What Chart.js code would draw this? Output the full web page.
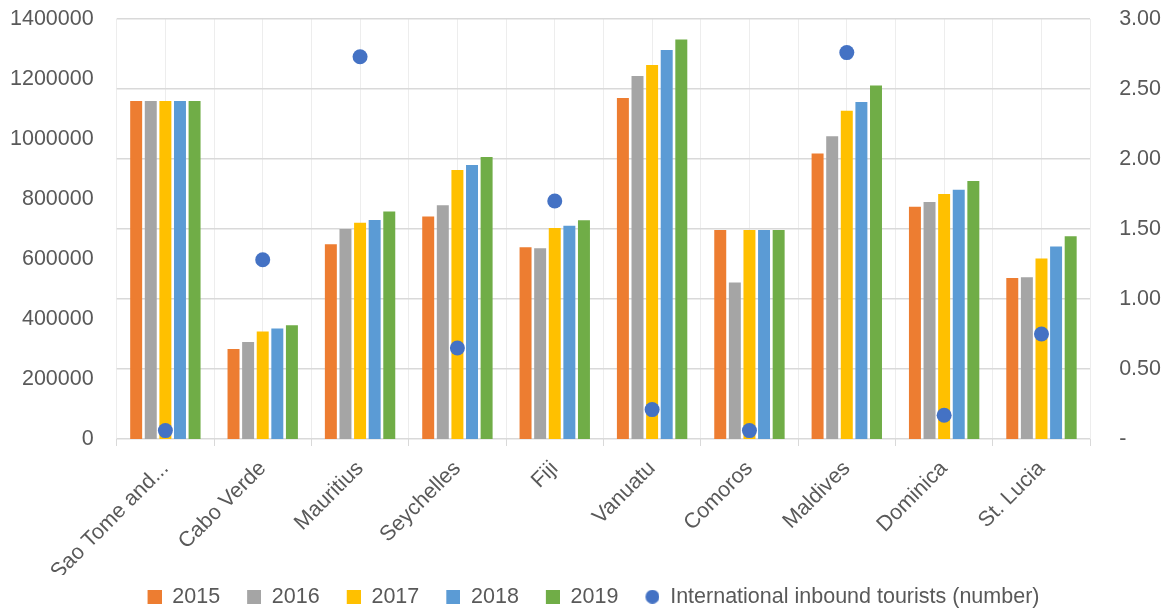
<!DOCTYPE html>
<html>
<head>
<meta charset="utf-8">
<title>Tourism by country, 2015–2019</title>
<script src="https://cdn.jsdelivr.net/npm/chart.js@4.4.1/dist/chart.umd.min.js"></script>
<style>
  html, body { margin: 0; padding: 0; background: #fff; }
  #wrap { position: relative; width: 1167px; height: 610px; }
</style>
</head>
<body>
<div id="wrap"><canvas id="chartTourism"></canvas></div>
<script>
/* Grouped bars per year (left axis) + tourist dots (right axis). */

const categories = ['Sao Tome and...', 'Cabo Verde', 'Mauritius', 'Seychelles', 'Fiji',
  'Vanuatu', 'Comoros', 'Maldives', 'Dominica', 'St. Lucia'];

const years = ['2015', '2016', '2017', '2018', '2019'];

const y2015 = [1127000, 300000, 649000, 742000, 639000, 1137000, 697000, 952000, 774000, 537000];
const y2016 = [1127000, 323000, 700000, 779000, 636000, 1210000, 522000, 1009000, 790000, 539000];
const y2017 = [1127000, 358000, 721000, 897000, 703000, 1247000, 697000, 1094000, 817000, 602000];
const y2018 = [1127000, 368000, 730000, 913000, 711000, 1297000, 697000, 1123000, 831000, 642000];
const y2019 = [1127000, 379000, 758000, 940000, 729000, 1332000, 697000, 1178000, 860000, 676000];

const tourists = [0.06, 1.28, 2.73, 0.65, 1.70, 0.21, 0.06, 2.76, 0.17, 0.75];
const touristsLabel = 'International inbound tourists (number)';

const leftTicks = [0, 200000, 400000, 600000, 800000, 1000000, 1200000, 1400000];
const rightTicks = [0, 0.5, 1, 1.5, 2, 2.5, 3];

(function () {
  'use strict';

  const ORANGE = '#ED7D31';
  const GREY   = '#A5A5A5';
  const GOLD   = '#FFC000';
  const SKY    = '#5B9BD5';
  const GREEN  = '#70AD47';
  const DOT    = '#4472C4';
  const TEXT   = '#595959';
  const RULE   = '#D9D9D9';
  const FAINT  = '#EDEDED';

  const FONT = { family: "'Liberation Sans', Arial, sans-serif", size: 21.5 };

  Chart.defaults.font.family = FONT.family;
  Chart.defaults.font.size = FONT.size;
  Chart.defaults.color = TEXT;

  const series = [y2015, y2016, y2017, y2018, y2019];
  const colors = [ORANGE, GREY, GOLD, SKY, GREEN];

  /* Legend markers: 14px square / dot, pushed to the right edge of a wider
     slot so the gap between legend entries is wider than box-to-text. */
  const SLOT = 30, MARK = 14;
  function legendMark(color, round) {
    const cv = document.createElement('canvas');
    cv.width = SLOT; cv.height = MARK;
    const c = cv.getContext('2d');
    c.fillStyle = color;
    if (round) {
      c.beginPath();
      c.arc(SLOT - MARK / 2, MARK / 2, MARK / 2, 0, Math.PI * 2);
      c.fill();
    } else {
      c.fillRect(SLOT - MARK, 0, MARK, MARK);
    }
    return cv;
  }

  const barSets = series.map((data, i) => ({
    type: 'bar',
    label: years[i],
    data,
    backgroundColor: colors[i],
    borderWidth: 0,
    yAxisID: 'y',
    xAxisID: 'x',
    order: 2,
    categoryPercentage: 0.75,
    barPercentage: 0.82,
  }));

  const dotSet = {
    type: 'line',
    label: touristsLabel,
    data: tourists,
    showLine: false,
    yAxisID: 'y2',
    xAxisID: 'x',
    order: 1,
    pointRadius: 7.5,
    pointHoverRadius: 7.5,
    pointBackgroundColor: DOT,
    pointBorderWidth: 0,
    backgroundColor: DOT,
    borderColor: DOT,
  };

  // keep label overflow from shrinking the plot
  const noOverflow = (axis) => {
    axis.paddingTop = 0; axis.paddingBottom = 0;
    axis.paddingLeft = 0; axis.paddingRight = 0;
  };
  // Chart.js reserves tick padding on both sides of the labels; drop the outer one
  const trimOuter = (axis) => {
    noOverflow(axis);
    axis.width -= axis.options.ticks.padding;
  };

  new Chart(document.getElementById('chartTourism'), {
    data: { labels: categories, datasets: [...barSets, dotSet] },
    options: {
      responsive: true,
      maintainAspectRatio: false,
      animation: false,
      layout: { padding: { top: 19, left: 10, right: 6, bottom: -7.5 } },
      plugins: {
        tooltip: { enabled: false },
        legend: {
          position: 'bottom',
          labels: {
            usePointStyle: true,
            pointStyleWidth: SLOT,
            boxHeight: MARK,
            padding: 11,
            color: TEXT,
            font: FONT,
            generateLabels(chart) {
              return chart.data.datasets.map((ds, i) => ({
                text: ds.label,
                datasetIndex: i,
                fillStyle: i < 5 ? colors[i] : DOT,
                strokeStyle: 'transparent',
                lineWidth: 0,
                fontColor: TEXT,
                pointStyle: legendMark(i < 5 ? colors[i] : DOT, i >= 5),
                hidden: false,
              }));
            },
          },
        },
      },
      scales: {
        x: {
          type: 'category',
          position: 'bottom',
          offset: true,
          grid: { offset: true, color: FAINT, drawTicks: true, tickLength: 7, tickColor: RULE },
          border: { display: false },
          ticks: { minRotation: 45, maxRotation: 45, padding: 10, color: TEXT, font: FONT },
          afterFit(axis) { noOverflow(axis); axis.height = 136; },
        },
        // light lines through each category centre
        xc: {
          type: 'category',
          position: 'top',
          offset: true,
          labels: categories,
          grid: { offset: false, color: FAINT, drawTicks: false },
          border: { display: false },
          ticks: { display: false },
          afterFit(axis) { noOverflow(axis); axis.height = 0; },
        },
        y: {
          position: 'left',
          min: 0,
          max: 1400000,
          afterBuildTicks(axis) { axis.ticks = leftTicks.map(v => ({ value: v })); },
          afterFit: trimOuter,
          grid: { display: false, drawTicks: false },
          border: { display: false },
          ticks: { padding: 23, color: TEXT, font: FONT, callback: v => String(v) },
        },
        y2: {
          position: 'right',
          min: 0,
          max: 3,
          afterBuildTicks(axis) { axis.ticks = rightTicks.map(v => ({ value: v })); },
          afterFit: trimOuter,
          grid: { color: RULE, lineWidth: 1.5, drawTicks: false },
          border: { display: false },
          ticks: { padding: 29, color: TEXT, font: FONT, callback: v => (v === 0 ? '-' : v.toFixed(2)) },
        },
      },
    },
  });
})();
</script>
</body>
</html>
